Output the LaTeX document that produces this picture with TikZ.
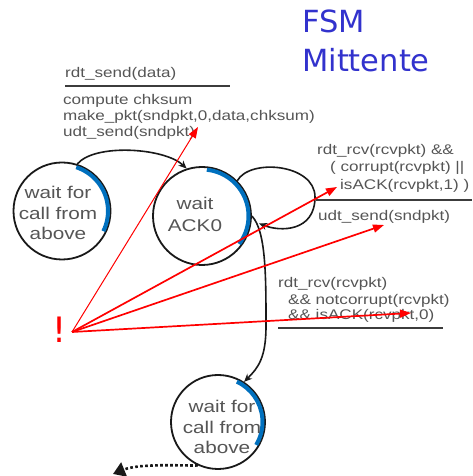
\documentclass[tikz,border=0pt]{standalone}
\usepackage{fontspec}
\usetikzlibrary{arrows.meta}
\newfontfamily\gfont[FakeStretch=1.22]{Liberation Sans}
\newfontfamily\tfont{DejaVu Sans}
\definecolor{txtgray}{RGB}{85,85,85}
\definecolor{fsmblue}{RGB}{50,50,205}
\definecolor{bandblue}{RGB}{0,112,190}
\definecolor{lineblk}{RGB}{25,25,25}
\definecolor{rulegray}{RGB}{60,60,60}
\begin{document}
\begin{tikzpicture}[x=1pt,y=1pt,
  state/.style={circle, draw=lineblk, line width=1.8pt, minimum size=#1, inner sep=0pt},
  ctext/.style={font=\gfont\fontsize{17}{20.5}\selectfont, text=txtgray, align=center, inner sep=0pt},
  lab/.style={font=\gfont\fontsize{14}{16}\selectfont, text=txtgray, anchor=base west, inner sep=0pt},
  rulebar/.style={draw=rulegray, line width=2.6pt},
  band/.style={draw=bandblue, line width=4pt},
  trans/.style={draw=lineblk, line width=1.6pt, -{Stealth[length=8pt,width=7pt]}},
  redarrow/.style={draw=red, line width=1.7pt, -{Triangle[length=11pt,width=8pt]}},
  dotline/.style={draw=lineblk, line width=2.6pt, dash pattern=on 2.6pt off 2.4pt, -{Triangle[length=12pt,width=15pt]}},
  title/.style={font=\tfont\fontsize{30.5}{36}\selectfont, text=fsmblue, anchor=base west, inner sep=0pt}
]
\useasboundingbox (0,0) rectangle (472,476);

% title
\node[title] (ttl1) at (302,443) {FSM};
\node[title] (ttl2) at (302,404) {Mittente};

% states
\node[state=97pt] (c1) at (62,265) {};
\node[state=98pt] (c2) at (202,260) {};
\node[state=94pt] (c3) at (218,54) {};
\draw[band] (c1.center) ++(72:46pt) arc[start angle=72, end angle=-26, radius=46pt];
\draw[band] (c2.center) ++(84:46.5pt) arc[start angle=84, end angle=-37, radius=46.5pt];
\draw[band] (c3.center) ++(65:44.5pt) arc[start angle=65, end angle=-31, radius=44.5pt];
\node[ctext] (t1) at (58,263) {wait for\\call from\\above};
\node[ctext, font=\gfont\fontsize{17}{22}\selectfont] (t2) at (195,262) {wait\\ACK0};
\node[ctext] (t3) at (222,49) {wait for\\call from\\above};

% labels
\node[lab] (l1) at (65,398) {rdt\_send(data)};
\draw[rulebar] (65,390) -- (230,390);
\node[lab] (l2) at (63,371) {compute chksum};
\node[lab] (l3) at (63,355) {make\_pkt(sndpkt,0,data,chksum)};
\node[lab] (l4) at (63,339) {udt\_send(sndpkt)};

\node[lab] (l5) at (317,321) {rdt\_rcv(rcvpkt) \&\&};
\node[lab] (l6) at (330,304) {( corrupt(rcvpkt) ||};
\node[lab] (l7) at (340,286) {isACK(rcvpkt,1) )};
\draw[rulebar] (316,276) -- (472,276);
\node[lab] (l8) at (318,255) {udt\_send(sndpkt)};

\node[lab] (l9) at (278,188) {rdt\_rcv(rcvpkt)};
\node[lab] (l10) at (288,171) {\&\& notcorrupt(rcvpkt)};
\node[lab] (l11) at (288,156) {\&\& isACK(rcvpkt,0)};
\draw[rulebar] (278,148) -- (443,148);

% transitions
\draw[trans] (c1.72) .. controls (95,333) and (165,328) .. (c2.108);
\draw[trans, shorten >=8pt] (c2.45) .. controls (250,318) and (315,312) .. (315,279)
   .. controls (315,244) and (280,244) .. (c2.-5);
\draw[trans] (c2.0) .. controls (266,245) and (266,200) .. (266,150)
   .. controls (266,118) and (258,108) .. (c3.57);
\coordinate (dend) at (113,2);
\draw[dotline] (c3.245) .. controls (185,10) and (140,13) .. (dend);

% red annotations
\node[font=\tfont\fontsize{35}{35}\selectfont, text=red, anchor=base, inner sep=0pt] (ex) at (60,133) {!};
\coordinate (o) at (72,144);
\coordinate (r1) at (198,349);
\coordinate (r2) at (337,289);
\coordinate (r3) at (384,251);
\coordinate (r4) at (411,163);
\draw[redarrow, line width=1pt] (o) -- (r1);
\draw[redarrow] (o) -- (r2);
\draw[redarrow] (o) -- (r3);
\draw[redarrow] (o) -- (r4);
\end{tikzpicture}
\end{document}
